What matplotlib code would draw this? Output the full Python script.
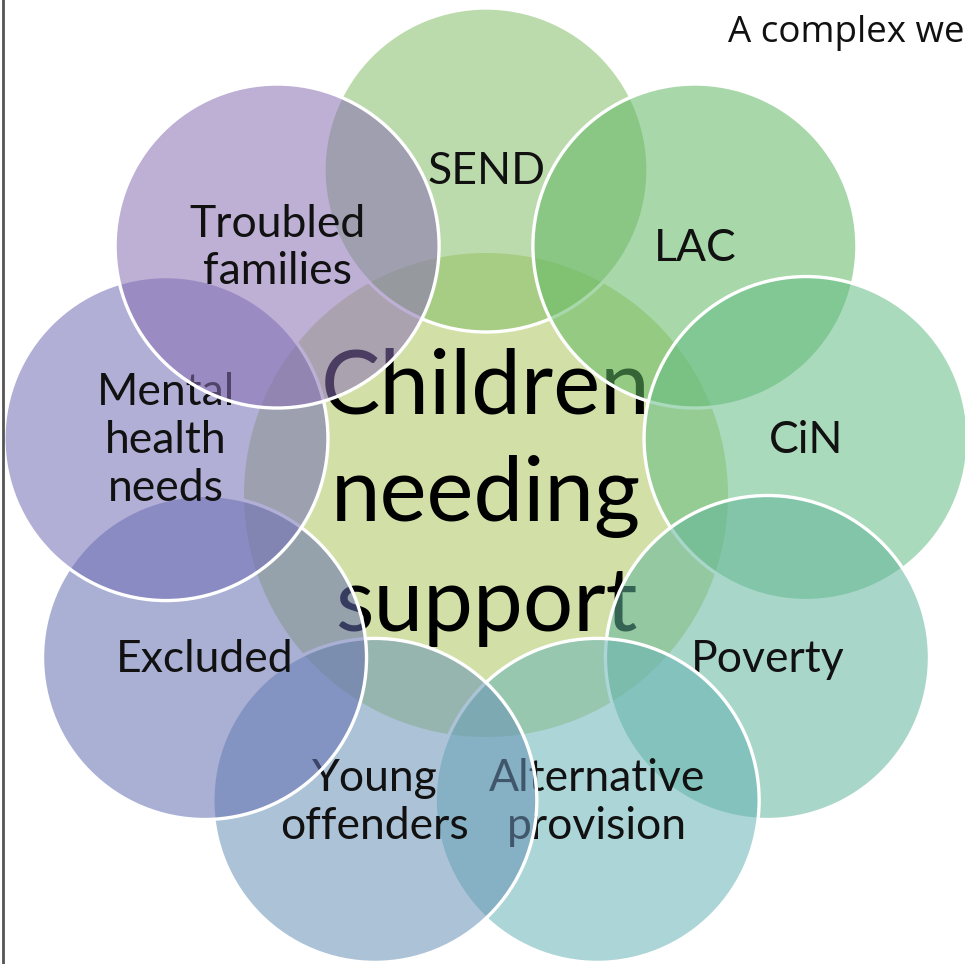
import numpy as np
import matplotlib.pyplot as plt
from matplotlib.patches import Circle
from matplotlib.colors import to_rgb

# outer circles, clockwise from the top
labels = ["SEND", "LAC", "CiN", "Poverty", "Alternative\nprovision",
          "Young\noffenders", "Excluded", "Mental\nhealth\nneeds",
          "Troubled\nfamilies"]
fills = ["#85be68", "#61b864", "#64bc85", "#61b59b", "#68b3b6",
         "#6892b6", "#646fb1", "#736db6", "#896fb3"]
centre_label = "Children\nneeding\nsupport"
centre_fill = "#d2e0a8"
title = "A complex web"

W, H = 965, 964
cx, cy = 486, 495       # centre of the diagram (pixels)
ring = 325              # distance of outer circles from centre
r_out = 162
r_mid = 242
alpha = 0.55

plt.rcParams['font.family'] = ['Lato', 'DejaVu Sans']

fig = plt.figure(figsize=(W / 100, H / 100), dpi=100)
ax = fig.add_axes([0, 0, 1, 1])
ax.set_xlim(0, W)
ax.set_ylim(H, 0)
ax.axis("off")

# centre circle and its text sit under the ring of circles
ax.add_patch(Circle((cx, cy), r_mid, facecolor=centre_fill, edgecolor="none", zorder=1))
ax.text(cx, cy + 2, centre_label, ha="center", va="center", fontsize=64,
        linespacing=1.4, color="black", zorder=2)

angles = np.deg2rad(90 - 40 * np.arange(len(labels)))
for i, (lab, col, a) in enumerate(zip(labels, fills, angles)):
    x = cx + ring * np.cos(a)
    y = cy - ring * np.sin(a)
    fc = to_rgb(col) + (alpha,)
    ax.add_patch(Circle((x, y), r_out, facecolor=fc, edgecolor="white",
                        linewidth=2.4, zorder=3 + 2 * i))
    ax.text(x, y + 2, lab, ha="center", va="center", fontsize=32,
            linespacing=1.2, color="#111111", zorder=4 + 2 * i)

ax.text(728, 33, title, ha="left", va="center", fontsize=26.5, color="#111111",
        family=["Open Sans", "DejaVu Sans"], zorder=30)

# thin frame on the left edge
ax.axvline(2.5, color="#555555", linewidth=2, zorder=31)

fig.savefig("out.png", dpi=100)
